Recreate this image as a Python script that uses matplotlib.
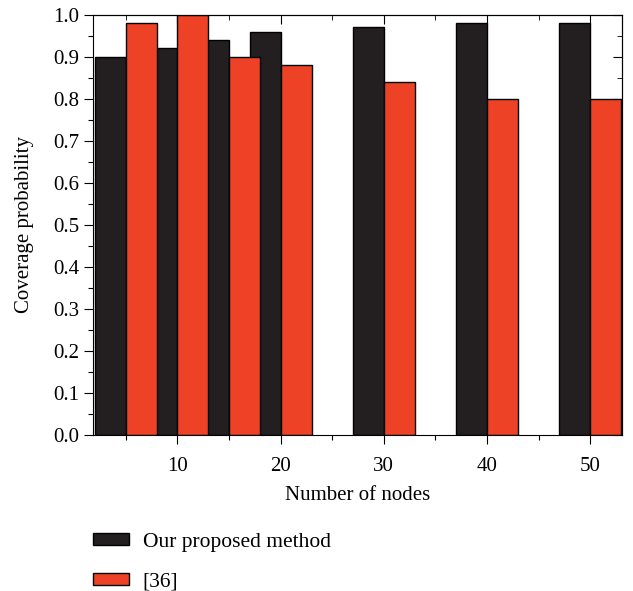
import matplotlib
matplotlib.use("Agg")
import matplotlib.pyplot as plt
from matplotlib.patches import Patch
from matplotlib.ticker import MultipleLocator

plt.rcParams['font.family'] = ['Liberation Serif', 'DejaVu Serif']

# number of nodes and coverage probability of each method
nodes = [5, 10, 15, 20, 30, 40, 50]
proposed = [0.90, 0.92, 0.94, 0.96, 0.97, 0.98, 0.98]
ref36 = [0.98, 1.00, 0.90, 0.88, 0.84, 0.80, 0.80]
labels = ['Our proposed method', '[36]']

black = '#231f20'
red = '#ee4226'

fig = plt.figure(figsize=(6.33, 5.91), dpi=100)
ax = fig.add_axes([0.1465, 0.264, 0.8365, 0.711])

w = 3
ax.bar(nodes, proposed, width=-w, align='edge', color=black, edgecolor='black', linewidth=1)
ax.bar(nodes, ref36, width=w, align='edge', color=red, edgecolor='black', linewidth=1)

ax.set_xlim(1.8, 53.1)
ax.set_ylim(0, 1.0)
ax.xaxis.set_major_locator(MultipleLocator(10))
ax.xaxis.set_minor_locator(MultipleLocator(5))
ax.yaxis.set_major_locator(MultipleLocator(0.1))
ax.yaxis.set_minor_locator(MultipleLocator(0.05))
ax.yaxis.set_major_formatter(plt.FormatStrFormatter('%.1f'))
ax.tick_params(which='major', direction='out', length=6.5, width=0.8, labelsize=15)
ax.tick_params(which='minor', direction='out', length=3.5, width=0.8)
ax.tick_params(axis='x', pad=9)
ax.tick_params(axis='y', pad=3)

# inward ticks on top and right
top = ax.secondary_xaxis('top')
top.xaxis.set_major_locator(MultipleLocator(10))
top.xaxis.set_minor_locator(MultipleLocator(5))
top.tick_params(which='both', direction='in', labeltop=False)
top.tick_params(which='major', length=6.5)
top.tick_params(which='minor', length=3.5)
right = ax.secondary_yaxis('right')
right.yaxis.set_major_locator(MultipleLocator(0.1))
right.yaxis.set_minor_locator(MultipleLocator(0.05))
right.tick_params(which='both', direction='in', labelright=False)
right.tick_params(which='major', length=6.5)
right.tick_params(which='minor', length=3.5)

for s in ax.spines.values():
    s.set_linewidth(0.8)

ax.set_xlabel('Number of nodes', fontsize=15, labelpad=7.5)
ax.set_ylabel('Coverage probability', fontsize=15, labelpad=14)

handles = [Patch(facecolor=black, edgecolor='black'), Patch(facecolor=red, edgecolor='black')]
fig.legend(handles, labels, loc='upper left', bbox_to_anchor=(0.117, 0.131), frameon=False,
           fontsize=15.5, handlelength=1.63, handleheight=0.5, handletextpad=0.65, labelspacing=0.95)

fig.savefig('out.png', dpi=100)
